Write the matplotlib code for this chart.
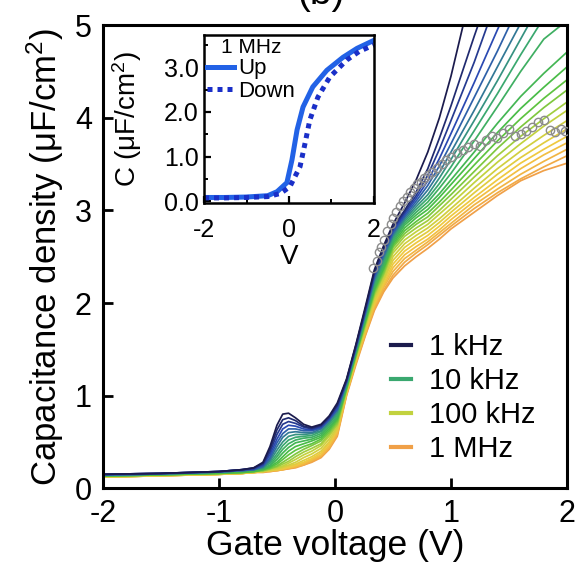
import numpy as np
import matplotlib
matplotlib.use("Agg")
import matplotlib.pyplot as plt
from matplotlib.colors import LinearSegmentedColormap
from matplotlib.ticker import MultipleLocator, FormatStrFormatter

plt.rcParams["font.family"] = ["Liberation Sans", "DejaVu Sans"]
plt.rcParams["mathtext.fontset"] = "custom"
plt.rcParams["mathtext.rm"] = "Liberation Sans"
plt.rcParams["mathtext.it"] = "Liberation Sans"
plt.rcParams["axes.unicode_minus"] = False

nan = np.nan

# gate voltage grid shared by all C-V curves (V)
gate_v = [-2.0, -1.5, -1.0, -0.8, -0.7, -0.62, -0.56, -0.5, -0.45, -0.4, -0.34, -0.27,
          -0.2, -0.12, -0.05, 0.02, 0.1, 0.18, 0.26, 0.34, 0.42, 0.5, 0.6, 0.7, 0.8, 0.9,
          1.0, 1.2, 1.4, 1.6, 1.8, 2.0]

# capacitance density (uF/cm^2), 1 kHz -> 1 MHz
cap_curves = [
    [0.15, 0.16, 0.18, 0.20, 0.22, 0.28, 0.45, 0.68, 0.80, 0.81, 0.76, 0.69, 0.66, 0.69, 0.78,
     0.92, 1.18, 1.55, 1.95, 2.36, 2.62, 2.85, 3.08, 3.33, 3.63, 4.00, 4.45, 5.50, nan, nan, nan, nan],
    [0.15, 0.16, 0.18, 0.20, 0.22, 0.27, 0.42, 0.63, 0.74, 0.76, 0.73, 0.67, 0.65, 0.68, 0.77,
     0.90, 1.17, 1.54, 1.93, 2.34, 2.60, 2.82, 3.00, 3.20, 3.45, 3.78, 4.13, 4.88, 5.60, nan, nan, nan],
    [0.15, 0.16, 0.18, 0.20, 0.21, 0.26, 0.39, 0.58, 0.69, 0.72, 0.70, 0.66, 0.64, 0.67, 0.76,
     0.89, 1.16, 1.53, 1.92, 2.32, 2.57, 2.80, 2.98, 3.16, 3.38, 3.66, 3.97, 4.60, 5.30, nan, nan, nan],
    [0.15, 0.16, 0.18, 0.20, 0.21, 0.25, 0.36, 0.53, 0.64, 0.68, 0.67, 0.64, 0.63, 0.66, 0.75,
     0.87, 1.15, 1.52, 1.90, 2.30, 2.55, 2.78, 2.96, 3.13, 3.32, 3.56, 3.83, 4.38, 4.95, 5.50, nan, nan],
    [0.14, 0.155, 0.175, 0.19, 0.20, 0.24, 0.33, 0.49, 0.59, 0.64, 0.64, 0.62, 0.62, 0.65, 0.74,
     0.85, 1.15, 1.51, 1.89, 2.28, 2.53, 2.76, 2.94, 3.10, 3.27, 3.48, 3.72, 4.22, 4.72, 5.25, nan, nan],
    [0.14, 0.155, 0.175, 0.19, 0.20, 0.23, 0.31, 0.45, 0.55, 0.60, 0.61, 0.60, 0.60, 0.64, 0.73,
     0.84, 1.14, 1.50, 1.88, 2.26, 2.50, 2.74, 2.92, 3.07, 3.22, 3.41, 3.63, 4.08, 4.55, 5.02, nan, nan],
    [0.14, 0.155, 0.175, 0.19, 0.20, 0.22, 0.29, 0.41, 0.50, 0.56, 0.58, 0.58, 0.59, 0.62, 0.71,
     0.82, 1.13, 1.49, 1.86, 2.23, 2.48, 2.72, 2.90, 3.04, 3.17, 3.35, 3.55, 3.97, 4.40, 4.85, 5.30, nan],
    [0.14, 0.155, 0.175, 0.19, 0.20, 0.22, 0.27, 0.37, 0.46, 0.52, 0.55, 0.56, 0.57, 0.61, 0.70,
     0.80, 1.12, 1.48, 1.85, 2.21, 2.45, 2.70, 2.88, 3.01, 3.13, 3.29, 3.47, 3.86, 4.26, 4.68, 5.08, nan],
    [0.14, 0.155, 0.175, 0.19, 0.20, 0.21, 0.25, 0.34, 0.42, 0.48, 0.52, 0.54, 0.55, 0.59, 0.68,
     0.78, 1.11, 1.47, 1.83, 2.19, 2.43, 2.68, 2.86, 2.98, 3.09, 3.24, 3.40, 3.75, 4.12, 4.50, 4.85, 5.05],
    [0.14, 0.155, 0.175, 0.19, 0.20, 0.21, 0.24, 0.31, 0.38, 0.44, 0.49, 0.51, 0.53, 0.57, 0.66,
     0.76, 1.10, 1.46, 1.82, 2.17, 2.41, 2.66, 2.84, 2.95, 3.05, 3.18, 3.33, 3.63, 3.94, 4.23, 4.48, 4.71],
    [0.13, 0.145, 0.16, 0.17, 0.18, 0.20, 0.23, 0.28, 0.34, 0.40, 0.45, 0.48, 0.51, 0.55, 0.64,
     0.75, 1.09, 1.45, 1.80, 2.15, 2.38, 2.64, 2.81, 2.92, 3.01, 3.14, 3.28, 3.56, 3.84, 4.10, 4.33, 4.55],
    [0.13, 0.145, 0.16, 0.17, 0.18, 0.20, 0.22, 0.26, 0.31, 0.36, 0.41, 0.45, 0.48, 0.53, 0.62,
     0.73, 1.08, 1.44, 1.79, 2.13, 2.36, 2.62, 2.78, 2.88, 2.97, 3.09, 3.22, 3.49, 3.75, 3.99, 4.21, 4.41],
    [0.13, 0.145, 0.16, 0.17, 0.18, 0.19, 0.21, 0.24, 0.28, 0.32, 0.37, 0.42, 0.46, 0.51, 0.60,
     0.71, 1.07, 1.43, 1.77, 2.11, 2.33, 2.60, 2.75, 2.85, 2.93, 3.05, 3.17, 3.42, 3.67, 3.90, 4.11, 4.30],
    [0.13, 0.145, 0.16, 0.17, 0.18, 0.19, 0.21, 0.23, 0.26, 0.29, 0.34, 0.39, 0.43, 0.48, 0.58,
     0.69, 1.07, 1.42, 1.76, 2.09, 2.31, 2.57, 2.72, 2.81, 2.89, 3.00, 3.12, 3.36, 3.59, 3.80, 3.99, 4.17],
    [0.13, 0.145, 0.16, 0.17, 0.18, 0.19, 0.20, 0.22, 0.24, 0.27, 0.31, 0.36, 0.40, 0.46, 0.56,
     0.68, 1.06, 1.41, 1.74, 2.07, 2.29, 2.54, 2.68, 2.77, 2.85, 2.96, 3.07, 3.30, 3.52, 3.72, 3.91, 4.08],
    [0.13, 0.145, 0.16, 0.17, 0.18, 0.18, 0.20, 0.21, 0.23, 0.25, 0.28, 0.33, 0.37, 0.43, 0.53,
     0.66, 1.05, 1.40, 1.73, 2.05, 2.26, 2.50, 2.64, 2.73, 2.81, 2.91, 3.02, 3.24, 3.45, 3.64, 3.81, 3.97],
    [0.12, 0.135, 0.15, 0.16, 0.17, 0.18, 0.19, 0.20, 0.22, 0.24, 0.26, 0.30, 0.34, 0.40, 0.50,
     0.64, 1.04, 1.39, 1.71, 2.02, 2.24, 2.46, 2.60, 2.69, 2.77, 2.87, 2.98, 3.19, 3.39, 3.57, 3.73, 3.88],
    [0.12, 0.135, 0.15, 0.16, 0.17, 0.18, 0.19, 0.20, 0.21, 0.23, 0.25, 0.28, 0.32, 0.38, 0.48,
     0.63, 1.03, 1.38, 1.70, 2.00, 2.21, 2.42, 2.56, 2.65, 2.73, 2.83, 2.94, 3.14, 3.33, 3.51, 3.66, 3.80],
    [0.12, 0.135, 0.15, 0.16, 0.17, 0.18, 0.19, 0.20, 0.21, 0.22, 0.24, 0.27, 0.31, 0.36, 0.46,
     0.61, 1.03, 1.37, 1.68, 1.98, 2.19, 2.38, 2.52, 2.61, 2.69, 2.79, 2.90, 3.10, 3.28, 3.45, 3.60, 3.73],
    [0.12, 0.135, 0.15, 0.16, 0.17, 0.18, 0.19, 0.19, 0.20, 0.22, 0.23, 0.26, 0.30, 0.35, 0.44,
     0.59, 1.02, 1.36, 1.67, 1.96, 2.17, 2.34, 2.48, 2.57, 2.66, 2.76, 2.86, 3.06, 3.23, 3.39, 3.53, 3.66],
    [0.12, 0.135, 0.15, 0.16, 0.17, 0.18, 0.18, 0.19, 0.20, 0.21, 0.23, 0.25, 0.29, 0.34, 0.43,
     0.58, 1.01, 1.35, 1.65, 1.94, 2.14, 2.30, 2.44, 2.54, 2.63, 2.73, 2.83, 3.02, 3.19, 3.34, 3.47, 3.59],
    [0.12, 0.135, 0.15, 0.16, 0.17, 0.17, 0.18, 0.19, 0.20, 0.21, 0.22, 0.25, 0.28, 0.33, 0.42,
     0.56, 1.00, 1.33, 1.64, 1.92, 2.12, 2.27, 2.40, 2.50, 2.59, 2.69, 2.80, 2.98, 3.16, 3.32, 3.43, 3.51],
]
legend_idx = [0, 7, 14, 21]
legend_labels = ["1 kHz", "10 kHz", "100 kHz", "1 MHz"]

# grey open circles
circ_v = [0.33, 0.36, 0.38, 0.40, 0.42, 0.45, 0.48, 0.50, 0.53, 0.56, 0.59, 0.62, 0.65, 0.68,
          0.71, 0.74, 0.77, 0.80, 0.84, 0.88, 0.92, 0.96, 1.00, 1.05, 1.10, 1.15, 1.20, 1.25,
          1.30, 1.35, 1.40, 1.45, 1.50, 1.55, 1.60, 1.65, 1.70, 1.75, 1.80, 1.85, 1.90, 1.95, 1.98]
circ_c = [2.38, 2.45, 2.55, 2.60, 2.68, 2.78, 2.85, 2.92, 2.98, 3.05, 3.10, 3.15, 3.20, 3.24,
          3.28, 3.31, 3.35, 3.38, 3.42, 3.46, 3.50, 3.54, 3.58, 3.62, 3.65, 3.69, 3.72, 3.70,
          3.76, 3.80, 3.78, 3.84, 3.88, 3.80, 3.82, 3.86, 3.90, 3.95, 3.98, 3.87, 3.85, 3.88, 3.86]

# inset: 1 MHz up / down sweep
inset_up_v = [-2.0, -1.5, -1.0, -0.5, -0.28, -0.05, 0.07, 0.19, 0.33, 0.56, 0.89, 1.27, 1.6, 2.0]
inset_up_c = [0.09, 0.09, 0.10, 0.13, 0.22, 0.42, 0.93, 1.60, 2.11, 2.56, 2.93, 3.22, 3.42, 3.60]
inset_dn_v = [-2.0, -1.5, -1.0, -0.5, -0.2, 0.02, 0.26, 0.38, 0.49, 0.68, 0.96, 1.36, 1.65, 2.0]
inset_dn_c = [0.08, 0.08, 0.09, 0.11, 0.18, 0.33, 0.78, 1.31, 1.82, 2.33, 2.78, 3.16, 3.35, 3.50]

cmap = LinearSegmentedColormap.from_list(
    "freq",
    [(0.0, "#1b1b4d"), (0.15, "#2b4cb8"), (0.33, "#3aa870"), (0.5, "#4cc040"),
     (0.667, "#c2d23e"), (0.82, "#f2c840"), (1.0, "#f0a048")],
)

fig = plt.figure(figsize=(5.78, 5.73), dpi=100)
ax = fig.add_axes([0.178, 0.148, 0.803, 0.808])

n = len(cap_curves)
for i in reversed(range(n)):
    ax.plot(gate_v, cap_curves[i], color=cmap(i / (n - 1)), lw=1.25, zorder=2)

ax.plot(circ_v, circ_c, ls="none", marker="o", ms=6, mfc="none", mec="#8c8c8c",
        mew=1.0, zorder=3)

handles = []
for k, lab in zip(legend_idx, legend_labels):
    (h,) = ax.plot([], [], color=cmap(k / (n - 1)), lw=3, label=lab)
    handles.append(h)
ax.legend(handles=handles, loc="lower left", bbox_to_anchor=(0.62, 0.055),
          frameon=False, fontsize=21, handlelength=0.7, handletextpad=0.6,
          labelspacing=0.2, borderpad=0, borderaxespad=0)

ax.set_xlim(-2, 2)
ax.set_ylim(0, 5)
ax.set_xticks([-2, -1, 0, 1, 2])
ax.set_yticks([0, 1, 2, 3, 4, 5])
ax.tick_params(direction="in", length=7, width=2, labelsize=22, pad=8)
for s in ax.spines.values():
    s.set_linewidth(2.2)
ax.set_xlabel("Gate voltage (V)", fontsize=25.5, labelpad=0)
ax.set_ylabel("Capacitance density (μF/cm$^2$)", fontsize=25, labelpad=6)

fig.text(0.556, 1 - 4 / 573, "(b)", fontsize=28, ha="center", va="baseline")

# inset
axi = fig.add_axes([0.353, 0.646, 0.294, 0.293])
axi.plot(inset_up_v, inset_up_c, color="#2262e6", lw=3.6, label="Up")
axi.plot(inset_dn_v, inset_dn_c, color="#1a2fc8", lw=3.6, ls=(0, (1, 1)), label="Down")
axi.set_xlim(-2, 2)
axi.set_ylim(-0.03, 3.72)
axi.set_xticks([-2, 0, 2])
axi.xaxis.set_minor_locator(MultipleLocator(1))
axi.set_yticks([0, 1, 2, 3])
axi.yaxis.set_minor_locator(MultipleLocator(0.5))
axi.yaxis.set_major_formatter(FormatStrFormatter("%.1f"))
axi.tick_params(which="major", direction="in", length=5, width=1.6, labelsize=18, pad=4)
axi.tick_params(axis="x", which="major", pad=11)
axi.tick_params(which="minor", direction="in", length=3, width=1.4)
for s in axi.spines.values():
    s.set_linewidth(1.8)
axi.set_xlabel("V", fontsize=20, labelpad=1)
axi.set_ylabel("C (μF/cm$^2$)", fontsize=20, labelpad=14)
axi.legend(title="1 MHz", loc="upper left", frameon=False, fontsize=16, title_fontsize=15,
           handlelength=1.2, handletextpad=0.2, labelspacing=0.05, borderpad=0.05,
           borderaxespad=0.1)

fig.savefig("out.png", dpi=100)
